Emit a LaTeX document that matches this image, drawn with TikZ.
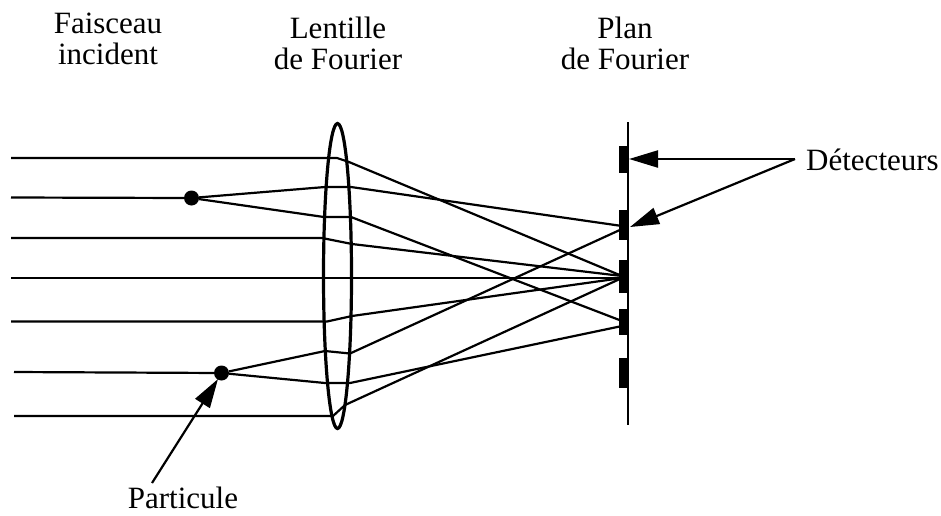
\documentclass[tikz,border=0pt]{standalone}
\usepackage{fontspec}
\setmainfont{Liberation Serif}
\usetikzlibrary{arrows.meta,shapes.geometric}
\tikzset{
  x=1pt,y=-1pt,
  ray/.style={line width=2.2pt,black,line join=round},
  ptr/.style={line width=2.2pt,black,-{Triangle[length=29pt,width=17pt]}},
  lbl/.style={font=\fontsize{31}{31}\selectfont,align=center,inner sep=0pt,text=black},
  det/.style={fill=black,draw=none},
  dot/.style={circle,fill=black,inner sep=0pt,minimum size=15pt},
  lens/.style={ellipse,draw=black,line width=3.2pt,minimum width=28pt,minimum height=305pt,inner sep=0pt}
}
\begin{document}
\begin{tikzpicture}
\useasboundingbox (0,0) rectangle (941,515);
% text
\node[lbl] (tf) at (108,38.5) {Faisceau\\incident};
\node[lbl] (tl) at (338,43.5) {Lentille\\de Fourier};
\node[lbl] (tp) at (625,43.5) {Plan\\de Fourier};
\node[lbl,anchor=base west] (td) at (806,170) {Détecteurs};
\node[lbl,anchor=base] (tq) at (183,508) {Particule};
% particles
\node[dot] (p1) at (191.5,198) {};
\node[dot] (p2) at (221.5,373) {};
% lens and plane
\node[lens] (lens) at (337.5,276) {};
\coordinate (pt) at (628,122);
\coordinate (pb) at (628,425);
\draw[line width=1.8pt] (pt) -- (pb);
% detectors
\fill[det] (619,146) rectangle (628,173);
\fill[det] (619,210) rectangle (628,240);
\fill[det] (619,260) rectangle (628,293);
\fill[det] (619,309) rectangle (628,335);
\fill[det] (619,358) rectangle (628,388);
\coordinate (d2a) at (622,226);
\coordinate (d2b) at (622,229);
\coordinate (d3a) at (622,276);
\coordinate (d3b) at (622,278);
\coordinate (d4a) at (622,321);
\coordinate (d4b) at (622,326);
% beams
\coordinate (b1) at (11,158);
\coordinate (b2) at (11,197.5);
\coordinate (b3) at (11,238);
\coordinate (b4) at (11,278);
\coordinate (b5) at (11,321.5);
\coordinate (b6) at (14,372);
\coordinate (b7) at (14,416);
\draw[ray] (b1) -- (337,158) -- (349,162) -- (d3a);
\draw[ray] (b2) -- (p1);
\draw[ray] (p1) -- (325,187) -- (351,187) -- (d2a);
\draw[ray] (p1) -- (324,217) -- (351,217) -- (d4a);
\draw[ray] (b3) -- (322,238) -- (352,244) -- (d3a);
\draw[ray] (b4) -- (d3b);
\draw[ray] (b5) -- (327,321.5) -- (352,316) -- (d3b);
\draw[ray] (b6) -- (p2);
\draw[ray] (p2) -- (325,351) -- (350,353.5) -- (d2b);
\draw[ray] (p2) -- (325,383) -- (350,383) -- (d4b);
\draw[ray] (b7) -- (333,416) -- (345,405) -- (d3b);
% pointers
\coordinate (t1) at (629,159);
\coordinate (t2) at (630,227);
\coordinate (t3) at (218,379);
\coordinate (s1) at (795,159);
\coordinate (s3) at (152,483);
\draw[ptr] (s1) -- (t1);
\draw[ptr] (s1) -- (t2);
\draw[ptr] (s3) -- (t3);
\end{tikzpicture}
\end{document}
